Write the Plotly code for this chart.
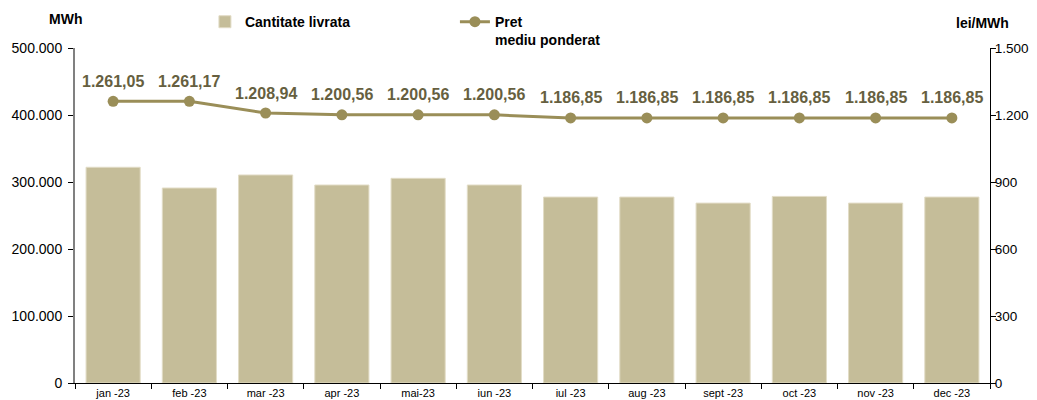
import plotly.graph_objects as go

months = ["jan -23", "feb -23", "mar -23", "apr -23", "mai-23", "iun -23",
          "iul -23", "aug -23", "sept -23", "oct -23", "nov -23", "dec -23"]
cantitate = [322000, 291000, 310500, 295500, 305500, 295500,
             277500, 277500, 268500, 278500, 268500, 277500]
pret = [1261.05, 1261.17, 1208.94, 1200.56, 1200.56, 1200.56,
        1186.85, 1186.85, 1186.85, 1186.85, 1186.85, 1186.85]

left_ticks = [0, 100000, 200000, 300000, 400000, 500000]
right_ticks = [0, 300, 600, 900, 1200, 1500]

bar_color = "#c5bd99"
line_color = "#9a8e58"
label_color = "#665f40"
FONT = "Liberation Sans, Arial"


def ro(v):
    return f"{v:,.2f}".replace(",", "X").replace(".", ",").replace("X", ".")


fig = go.Figure()
fig.add_trace(go.Bar(
    x=months, y=cantitate, name="Cantitate livrata",
    marker=dict(color=bar_color, line=dict(color="#e2dcc6", width=1)),
    yaxis="y",
))
fig.add_trace(go.Scatter(
    x=months, y=pret, name="Pret<br>mediu ponderat",
    mode="lines+markers",
    line=dict(color=line_color, width=3),
    marker=dict(color=line_color, size=11),
    yaxis="y2",
))

for m, p in zip(months, pret):
    fig.add_annotation(
        x=m, y=p, yref="y2", xref="x",
        text="<b>" + ro(p) + "</b>",
        showarrow=False, yshift=20,
        font=dict(family=FONT, size=16, color=label_color),
    )

fig.add_annotation(xref="paper", yref="paper", x=-0.0109, y=1.0866, text="<b>MWh</b>",
                   showarrow=False, xanchor="center", yanchor="middle",
                   font=dict(family=FONT, size=14, color="black"))
fig.add_annotation(xref="paper", yref="paper", x=0.9923, y=1.0746, text="<b>lei/MWh</b>",
                   showarrow=False, xanchor="center", yanchor="middle",
                   font=dict(family=FONT, size=14, color="black"))

fig.update_layout(
    width=1037, height=400,
    margin=dict(l=67, r=55, t=40, b=25, autoexpand=False),
    paper_bgcolor="white", plot_bgcolor="white",
    separators=",.",
    font=dict(family=FONT, size=14, color="black"),
    bargap=0.29,
    showlegend=True,
    legend=dict(
        orientation="h", x=0.142, y=1.125, xanchor="left", yanchor="top",
        font=dict(family=FONT, size=14, color="black", weight="bold"),
        entrywidth=205, entrywidthmode="pixels", valign="top",
        bgcolor="rgba(0,0,0,0)",
    ),
    xaxis=dict(
        range=[-0.5, len(months) - 0.5],
        showline=True, linecolor="black", linewidth=1,
        ticks="outside", ticklen=5, tickcolor="black",
        tickson="boundaries",
        tickfont=dict(size=11),
        showgrid=False, zeroline=False, automargin=False,
    ),
    yaxis=dict(
        range=[0, 500000], tickvals=left_ticks, tickformat=",d",
        showline=True, linecolor="#808080", linewidth=2,
        ticks="outside", ticklen=5, tickcolor="black",
        ticklabelstandoff=3,
        showgrid=False, zeroline=False, automargin=False,
        tickfont=dict(size=14),
    ),
    yaxis2=dict(
        range=[0, 1500], tickvals=right_ticks, tickformat=",d",
        overlaying="y", side="right",
        showline=True, linecolor="black", linewidth=1,
        ticks="outside", ticklen=5, tickcolor="black",
        ticklabelstandoff=-4,
        showgrid=False, zeroline=False, automargin=False,
        tickfont=dict(size=13.5),
    ),
)

fig.write_html("out.html")
